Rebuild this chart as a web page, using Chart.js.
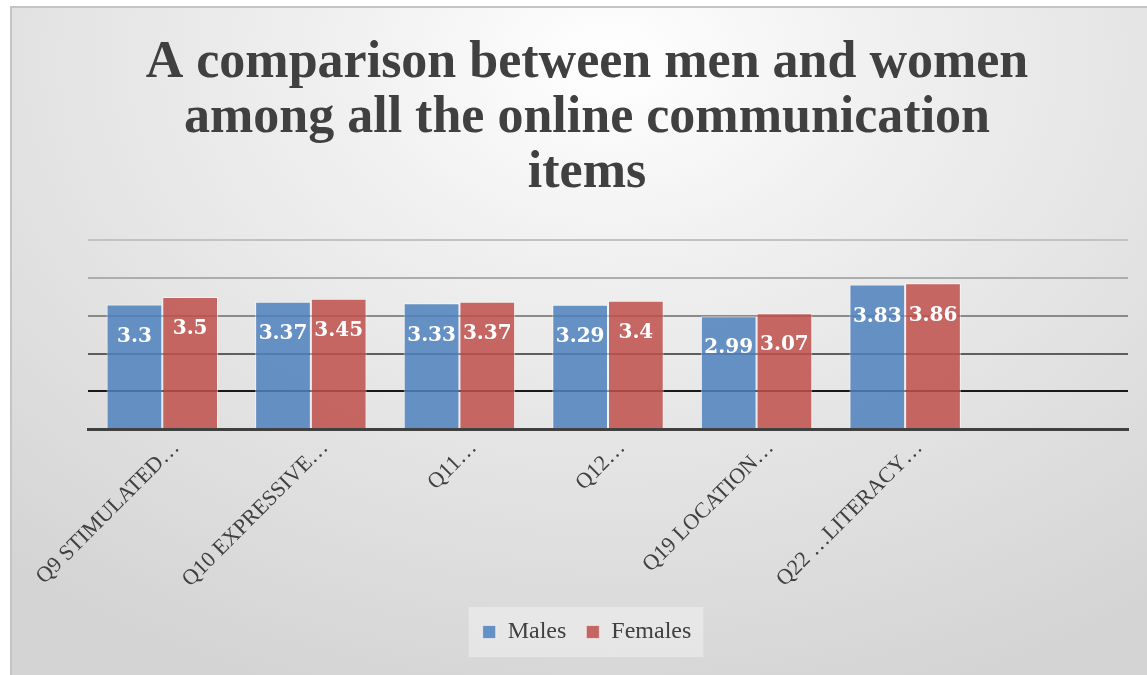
<!DOCTYPE html>
<html>
<head>
<meta charset="utf-8">
<script src="https://cdn.jsdelivr.net/npm/chart.js@4.4.1/dist/chart.umd.min.js"></script>
<style>
  html, body { margin: 0; padding: 0; background: #ffffff; overflow: hidden; width: 1147px; height: 675px; }
  #frame {
    position: absolute; left: 10px; top: 6px; width: 1150px; height: 667px;
    border-left: 2px solid #c4c4c4; border-top: 2px solid #c4c4c4;
    background: radial-gradient(ellipse 80% 100% at 52% 8%, #ffffff 0%, #f0f0f0 30%, #e2e2e2 65%, #d4d4d4 100%);
  }
  #c { display: block; }
</style>
</head>
<body>
<div id="frame"><canvas id="c" width="1150" height="667"></canvas></div>
<script>
const titleLines = ["A comparison between men and women", "among all the online communication", "items"];
const categories = ["Q9 STIMULATED…", "Q10 EXPRESSIVE…", "Q11…", "Q12…", "Q19 LOCATION…", "Q22 …LITERACY…", ""];
const malesValues = [3.3, 3.37, 3.33, 3.29, 2.99, 3.83];
const femalesValues = [3.5, 3.45, 3.37, 3.4, 3.07, 3.86];
const seriesNames = ["Males", "Females"];
const yTicks = [0, 1, 2, 3, 4, 5];

const serif = "'Liberation Serif', 'Times New Roman', serif";
const labelSerif = "'DejaVu Serif', serif";
const gridColors = { 1: '#1a1a1a', 2: '#5e5e5e', 3: '#8a8a8a', 4: '#adadad', 5: '#c2c2c2' };

const dataLabels = {
  id: 'dataLabels',
  afterDatasetsDraw(chart) {
    const ctx = chart.ctx;
    ctx.save();
    ctx.fillStyle = '#ffffff';
    ctx.font = "bold 20px " + labelSerif;
    ctx.textAlign = 'center';
    ctx.textBaseline = 'middle';
    chart.data.datasets.forEach((ds, i) => {
      const meta = chart.getDatasetMeta(i);
      meta.data.forEach((bar, j) => {
        const v = ds.data[j];
        if (v === undefined || v === null) return;
        ctx.fillText(String(v), bar.x, bar.y + 32);
      });
    });
    ctx.restore();
  }
};

const legendBox = {
  id: 'legendBox',
  beforeDraw(chart) {
    const lg = chart.legend;
    if (!lg || !lg.legendHitBoxes || !lg.legendHitBoxes.length) return;
    const hb = lg.legendHitBoxes;
    let l = Infinity, r = -Infinity, t = Infinity, b = -Infinity;
    hb.forEach(h => { l = Math.min(l, h.left); r = Math.max(r, h.left + h.width); t = Math.min(t, h.top); b = Math.max(b, h.top + h.height); });
    const cy = (t + b) / 2;
    const ctx = chart.ctx;
    ctx.save();
    ctx.fillStyle = 'rgba(255,255,255,0.35)';
    ctx.fillRect(l - 14, cy - 25, (r - l) + 26, 50);
    ctx.restore();
  }
};

new Chart(document.getElementById('c'), {
  type: 'bar',
  data: {
    labels: categories,
    datasets: [
      { label: seriesNames[0], data: malesValues, backgroundColor: 'rgba(79,129,189,0.86)', borderColor: 'rgba(255,255,255,0.55)', borderWidth: 1 },
      { label: seriesNames[1], data: femalesValues, backgroundColor: 'rgba(192,80,77,0.86)', borderColor: 'rgba(255,255,255,0.55)', borderWidth: 1 }
    ]
  },
  options: {
    responsive: false,
    animation: false,
    layout: { padding: { left: 34, right: 34, top: 0, bottom: 21 } },
    datasets: { bar: { categoryPercentage: 0.75, barPercentage: 1.0 } },
    scales: {
      x: {
        grid: { display: false },
        border: { display: true, color: '#404040', width: 3 },
        ticks: {
          color: '#404040', font: { family: serif, size: 22 },
          minRotation: 45, maxRotation: 45, autoSkip: false, labelOffset: 14, padding: -2
        },
        afterFit(scale) { scale.height = 171; }
      },
      y: {
        min: 0, max: 5,
        afterBuildTicks(scale) { scale.ticks = yTicks.map(v => ({ value: v })); },
        ticks: { display: false },
        border: { display: false },
        grid: {
          drawTicks: false, lineWidth: 2,
          color: (c) => (c.tick && gridColors[c.tick.value]) ? gridColors[c.tick.value] : 'rgba(0,0,0,0)'
        },
        afterFit(scale) { scale.width = 42; }
      }
    },
    plugins: {
      title: {
        display: true, text: titleLines, color: '#404040',
        font: { family: serif, size: 52, weight: 'bold', lineHeight: 1.06 },
        padding: { top: 28, bottom: 39 }
      },
      legend: {
        display: true, position: 'bottom',
        labels: { color: '#404040', font: { family: serif, size: 24 }, boxWidth: 13, boxHeight: 13, padding: 20 }
      },
      tooltip: { enabled: false }
    }
  },
  plugins: [dataLabels, legendBox]
});
</script>
</body>
</html>
